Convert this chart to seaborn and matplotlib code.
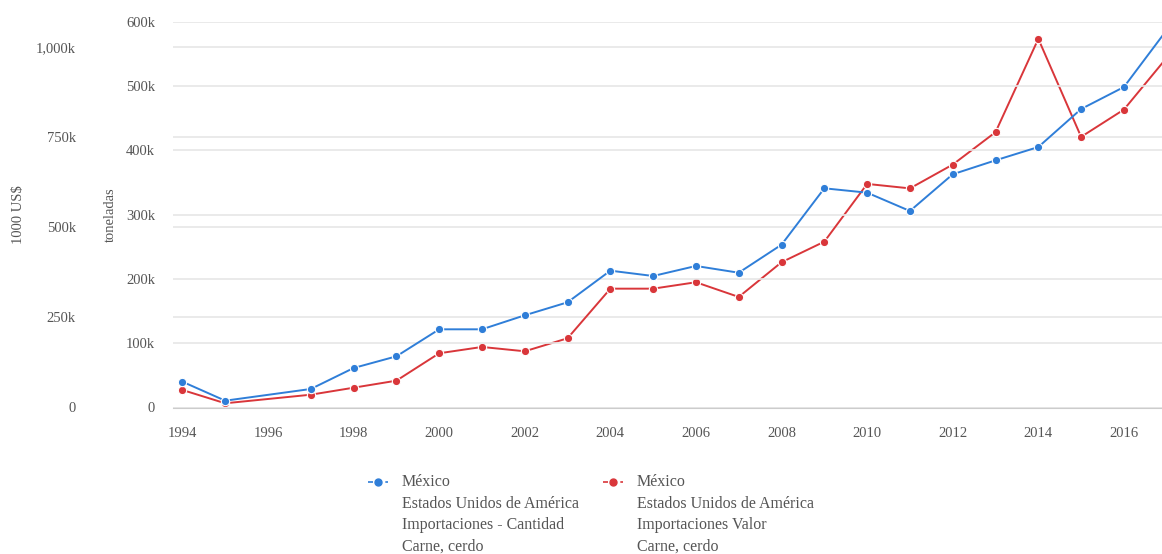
import pandas as pd
import numpy as np
import matplotlib.pyplot as plt
import seaborn as sns
from matplotlib.lines import Line2D
from matplotlib.ticker import FuncFormatter

sns.set_style("white")
plt.rcParams["font.family"] = ["Liberation Serif", "DejaVu Serif"]

years = [1994, 1995, 1997, 1998, 1999, 2000, 2001, 2002, 2003, 2004, 2005,
         2006, 2007, 2008, 2009, 2010, 2011, 2012, 2013, 2014, 2015, 2016, 2017]
cantidad = [40.1, 10.6, 28.8, 61.4, 79.6, 121.6, 121.6, 143.4, 163.6, 212.8, 204.5,
            220.1, 209.6, 253.2, 340.9, 334.1, 305.6, 362.7, 384.4, 405.1, 464.2, 498.4, 587]
valor = [48.6, 11.7, 35.5, 54.9, 74.4, 150.4, 167.9, 155.9, 192.0, 329.6, 329.6,
         347.4, 306.6, 402.9, 460.0, 620.1, 607.7, 673.7, 763.6, 1022.5, 750.6, 826.3, 970]

lbl_cant = ["México", "Estados Unidos de América", "Importaciones - Cantidad", "Carne, cerdo"]
lbl_val = ["México", "Estados Unidos de América", "Importaciones Valor", "Carne, cerdo"]

blue = "#2f7ed8"
red = "#d9363a"
grey = "#555555"
gridc = "#e6e6e6"

W, H = 1162, 554
df = pd.DataFrame({"Year": years, "Cantidad": cantidad, "Valor": valor})

fig = plt.figure(figsize=(W / 100, H / 100), dpi=100)
ax = fig.add_axes([173 / W, 146.5 / H, 1 - 173 / W, (407.5 - 21.7) / H])
ax2 = ax.twinx()

sns.lineplot(data=df, x="Year", y="Cantidad", ax=ax, color=blue, lw=1.4,
             marker="o", markersize=6, markeredgecolor="white", markeredgewidth=0.8, zorder=3)
sns.lineplot(data=df, x="Year", y="Valor", ax=ax2, color=red, lw=1.4,
             marker="o", markersize=6, markeredgecolor="white", markeredgewidth=0.8, zorder=3)

ax.set_xlim(1993.78, 2016.89)
ax.set_ylim(0, 600)
ax2.set_ylim(0, 1070)
ax.set_xticks(range(1994, 2017, 2))

kfmt = FuncFormatter(lambda v, p: "0" if v == 0 else f"{int(v):,}k")
ax.set_yticks(range(0, 601, 100))
ax.yaxis.set_major_formatter(kfmt)
ax2.set_yticks(range(0, 1001, 250))
ax2.yaxis.set_major_formatter(kfmt)

ax2.yaxis.tick_left()
ax2.yaxis.set_label_position("left")

for a in (ax, ax2):
    a.grid(axis="y", color=gridc, lw=1.2)
    a.set_axisbelow(True)
    for s in a.spines.values():
        s.set_visible(False)
    a.tick_params(axis="y", length=0, labelsize=10.5, labelcolor=grey)
ax.tick_params(axis="y", pad=13)
ax2.tick_params(axis="y", pad=70)
ax.spines["bottom"].set_visible(True)
ax.spines["bottom"].set_color("#cccccc")
ax.tick_params(axis="x", length=8, color="#cccccc", labelsize=10.5, labelcolor=grey, pad=6)

ax.set_xlabel("")
ax.set_ylabel("toneladas", color=grey, fontsize=10.5)
ax2.set_ylabel("1000 US$", color=grey, fontsize=10.5)
ax.yaxis.set_label_coords(-56 / 989, 0.5)
ax2.yaxis.set_label_coords(-148 / 989, 0.5)
ax.set_zorder(ax2.get_zorder() + 1)
ax.patch.set_visible(False)

# legend below the plot, marker aligned with first text line
for col, lines, hx, tx in [(blue, lbl_cant, 368, 402), (red, lbl_val, 603, 637)]:
    y0 = 1 - 482 / H
    fig.add_artist(Line2D([hx / W, (hx + 20) / W], [y0, y0], transform=fig.transFigure,
                          color=col, lw=1.2, ls=(0, (3, 2.2))))
    fig.add_artist(Line2D([(hx + 10) / W], [y0], transform=fig.transFigure,
                          color=col, marker="o", markersize=5, markeredgecolor=col))
    for i, t in enumerate(lines):
        fig.text(tx / W, 1 - (482 + 21.5 * i) / H, t, fontsize=11.5, color=grey,
                 ha="left", va="center")

fig.savefig("out.png", dpi=100)
